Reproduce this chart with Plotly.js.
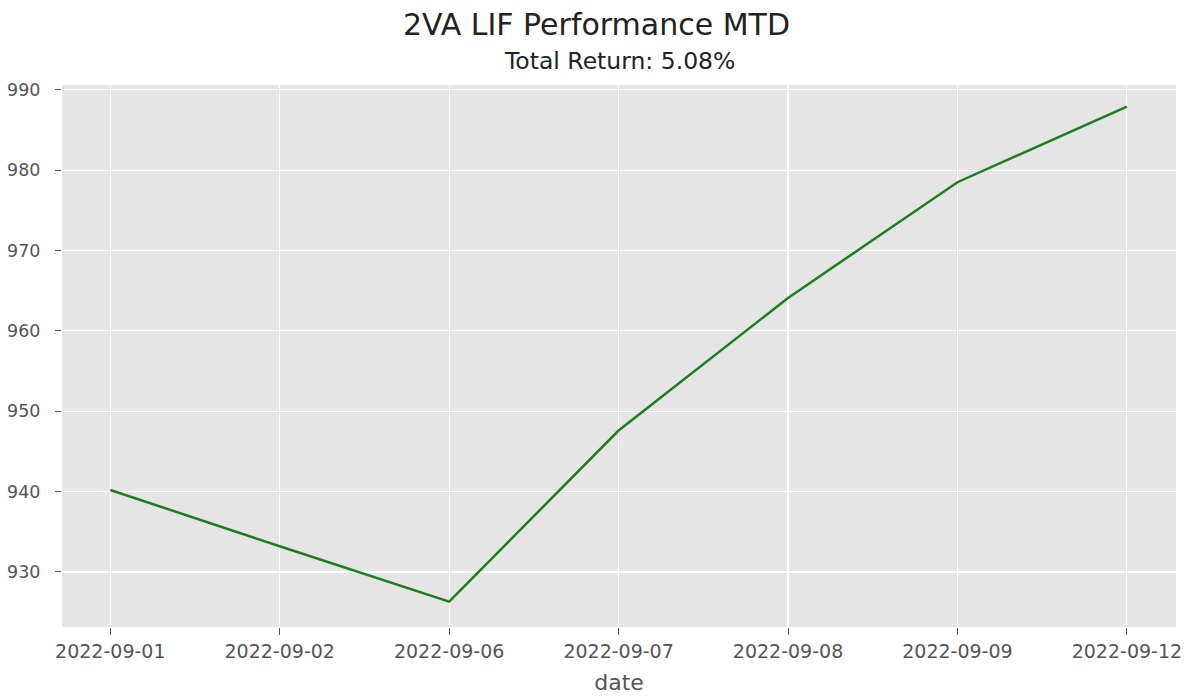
<!DOCTYPE html>
<html>
<head>
<meta charset="utf-8">
<script src="https://cdn.plot.ly/plotly-3.0.1.min.js"></script>
<style>html,body{margin:0;padding:0;background:#fff;}#chart{width:1193px;height:696px;}</style>
</head>
<body>
<div id="chart"></div>
<script>
const dates = ["2022-09-01","2022-09-02","2022-09-06","2022-09-07","2022-09-08","2022-09-09","2022-09-12"];
const values = [940.2, 933.2, 926.3, 947.6, 964.1, 978.5, 987.9];
const yTicks = [930, 940, 950, 960, 970, 980, 990];

const font = "DejaVu Sans, sans-serif";
const trace = {
  x: dates, y: values, type: "scatter", mode: "lines",
  line: {color: "#1b7f1b", width: 2.5},
  hoverinfo: "x+y"
};
const layout = {
  width: 1193, height: 696,
  margin: {l: 62, r: 17, t: 85, b: 69},
  paper_bgcolor: "#ffffff",
  plot_bgcolor: "#e5e5e5",
  showlegend: false,
  font: {family: font, color: "#555555"},
  title: {text: "2VA LIF Performance MTD", font: {family: font, size: 30, color: "#222222"},
          x: 0.5, xref: "container", xanchor: "center", y: 0.965, yanchor: "middle"},
  annotations: [{text: "Total Return: 5.08%", xref: "paper", yref: "paper", x: 0.5, y: 1, xanchor: "center",
                 yanchor: "bottom", yshift: 8, showarrow: false, font: {family: font, size: 23.5, color: "#222222"}}],
  xaxis: {
    type: "category", range: [-0.285, 6.29],
    showgrid: true, gridcolor: "#ffffff", gridwidth: 1.2,
    ticks: "outside", ticklen: 7, tickcolor: "#555555", tickwidth: 1,
    tickfont: {family: font, size: 19, color: "#555555"},
    zeroline: false, showline: false,
    title: {text: "date", font: {family: font, size: 22, color: "#555555"}, standoff: 13}
  },
  yaxis: {
    range: [923.15, 990.6], tickvals: yTicks,
    showgrid: true, gridcolor: "#ffffff", gridwidth: 1.2,
    ticks: "outside", ticklen: 6, tickcolor: "#555555", tickwidth: 1,
    ticklabelstandoff: 11,
    tickfont: {family: font, size: 17.5, color: "#555555"},
    zeroline: false, showline: false
  }
};
Plotly.newPlot("chart", [trace], layout, {displayModeBar: false, staticPlot: true});
</script>
</body>
</html>
